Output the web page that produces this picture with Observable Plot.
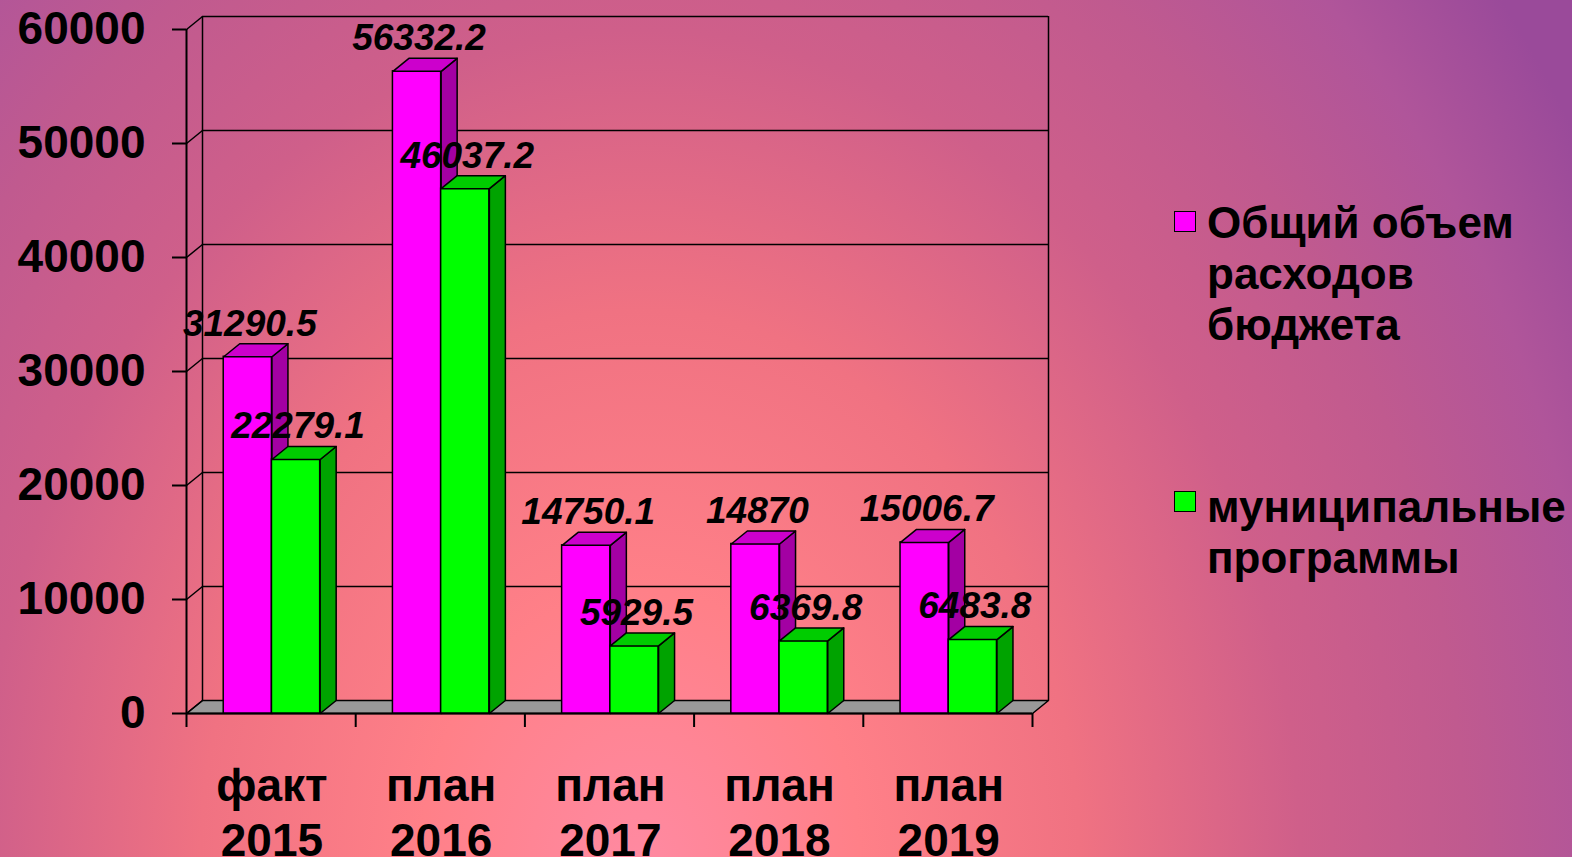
<!DOCTYPE html>
<html>
<head>
<meta charset="utf-8">
<script src="https://cdn.jsdelivr.net/npm/d3@7"></script>
<script src="https://cdn.jsdelivr.net/npm/@observablehq/plot@0.6"></script>
<style>
  html, body { margin: 0; padding: 0; }
  body {
    width: 1572px; height: 857px; overflow: hidden; position: relative;
    font-family: "Liberation Sans", Arial, sans-serif;
    background: radial-gradient(ellipse 1100px 1400px at 640px 870px,
      #ff8aa2 0%, #ff8088 20%, #f07282 40%, #cf5f8a 60%, #c05a8f 75%, #b0559a 88%, #9a4a9a 100%);
    background-color: #8f4698;
  }
  #chart { position: absolute; left: 0; top: 0; }
  .legend { position: absolute; left: 1174px; font-weight: bold; font-size: 44px; line-height: 51px; color: #000; }
  .legend .sw { position: absolute; left: 0; width: 20px; height: 19px; border: 1.5px solid #000; }
  .legend .tx { position: absolute; left: 33px; white-space: nowrap; }
</style>
</head>
<body>
<div id="chart"></div>
<div id="legend"></div>
<script>
// ---- data ----
const categories = ["факт\n2015", "план\n2016", "план\n2017", "план\n2018", "план\n2019"];
const totalSpending = [31290.5, 56332.2, 14750.1, 14870, 15006.7];
const municipalPrograms = [22279.1, 46037.2, 5929.5, 6369.8, 6483.8];
const valueLabelsTotal = ["31290.5", "56332.2", "14750.1", "14870", "15006.7"];
const valueLabelsMunicipal = ["22279.1", "46037.2", "5929.5", "6369.8", "6483.8"];
const yTicks = [0, 10000, 20000, 30000, 40000, 50000, 60000];
const seriesNames = ["Общий объем\nрасходов\nбюджета", "муниципальные\nпрограммы"];
const seriesColors = ["#ff00ff", "#00ff00"];

// ---- layout ----
const W = 1572, H = 857;
const mL = 186, mR = 540, mT = 29, mB = 144;
const N = categories.length;
const YMAX = 60000;
const pxX = (W - mL - mR) / N;       // pixels per category unit
const pxY = (H - mT - mB) / YMAX;    // pixels per value unit
const DX = 16 / pxX;                 // 3D depth in x units
const DY = 13 / pxY;                 // 3D depth in y units
const TICK = 14 / pxY;               // x tick length in y units
const BAR_START = 0.22, BAR_W = 0.285;

const shades = {
  "#ff00ff": {top: "#cc00cc", side: "#a300a3"},
  "#00ff00": {top: "#00cc00", side: "#00a300"}
};

function barRects(values, s) {
  return values.map((v, i) => ({x1: i + BAR_START + s * BAR_W, x2: i + BAR_START + (s + 1) * BAR_W, v}));
}
function sideFaces(values, s) {
  const pts = [];
  barRects(values, s).forEach((b, i) => {
    pts.push({f: i, x: b.x2, y: 0}, {f: i, x: b.x2 + DX, y: DY}, {f: i, x: b.x2 + DX, y: b.v + DY}, {f: i, x: b.x2, y: b.v});
  });
  return pts;
}
function topFaces(values, s) {
  const pts = [];
  barRects(values, s).forEach((b, i) => {
    pts.push({f: i, x: b.x1, y: b.v}, {f: i, x: b.x2, y: b.v}, {f: i, x: b.x2 + DX, y: b.v + DY}, {f: i, x: b.x1 + DX, y: b.v + DY});
  });
  return pts;
}
function barMarks(values, s) {
  const c = seriesColors[s];
  return [
    Plot.rect(barRects(values, s), {x1: "x1", x2: "x2", y1: 0, y2: "v", fill: c, stroke: "black", strokeWidth: 1.5, inset: 0}),
    Plot.line(sideFaces(values, s), {x: "x", y: "y", z: "f", curve: "linear-closed", fill: shades[c].side, stroke: "black", strokeWidth: 1.5}),
    Plot.line(topFaces(values, s), {x: "x", y: "y", z: "f", curve: "linear-closed", fill: shades[c].top, stroke: "black", strokeWidth: 1.5})
  ];
}

const floor = [{x: 0, y: 0}, {x: N, y: 0}, {x: N + DX, y: DY}, {x: DX, y: DY}];
const catIdx = d3.range(N);
const bounds = d3.range(N + 1);

const labelFont = {fontSize: 37, fontWeight: "bold", fontStyle: "italic", fill: "black", textAnchor: "middle"};

const chart = Plot.plot({
  width: W, height: H,
  marginLeft: mL, marginRight: mR, marginTop: mT, marginBottom: mB,
  style: {background: "transparent", fontFamily: "'Liberation Sans', Arial, sans-serif", overflow: "visible", color: "black"},
  x: {type: "linear", domain: [0, N], axis: null},
  y: {type: "linear", domain: [0, YMAX], axis: null},
  marks: [
    // floor
    Plot.line(floor, {x: "x", y: "y", curve: "linear-closed", fill: "#999999", stroke: "black", strokeWidth: 1.5}),
    // back wall grid
    Plot.ruleY(yTicks.filter(t => t > 0), {y: t => t + DY, x1: DX, x2: N + DX, stroke: "black", strokeWidth: 1.5, strokeOpacity: 1}),
    Plot.ruleX([DX, N + DX], {x: d => d, y1: DY, y2: YMAX + DY, stroke: "black", strokeWidth: 1.5, strokeOpacity: 1}),
    // left wall diagonals
    Plot.link(yTicks, {x1: 0, y1: t => t, x2: DX, y2: t => t + DY, stroke: "black", strokeWidth: 1.5, strokeOpacity: 1}),
    // front axis lines
    Plot.ruleX([0], {y1: 0, y2: YMAX, stroke: "black", strokeWidth: 2, strokeOpacity: 1}),
    Plot.ruleY([0], {x1: 0, x2: N, stroke: "black", strokeWidth: 2, strokeOpacity: 1}),
    // bars
    ...barMarks(totalSpending, 0),
    ...barMarks(municipalPrograms, 1),
    // axes
    Plot.axisY({ticks: yTicks, tickSize: 14, tickPadding: 27, fontSize: 46, fontWeight: "bold", strokeWidth: 2, tickFormat: d => String(d), fill: "black", stroke: "black"}),
    Plot.ruleX(bounds, {x: d => d, y1: 0, y2: -TICK, stroke: "black", strokeWidth: 2, strokeOpacity: 1}),
    Plot.text(catIdx, {x: i => i + 0.505, y: 0, text: i => categories[i], lineAnchor: "top", dy: 48, lineHeight: 1.2,
      fontSize: 46, fontWeight: "bold", fill: "black", textAnchor: "middle"}),
    // value labels
    Plot.text(catIdx, {x: i => i + BAR_START + 0.5 * BAR_W, y: i => totalSpending[i], text: i => valueLabelsTotal[i], dx: 2, dy: -33, ...labelFont}),
    Plot.text(catIdx, {x: i => i + BAR_START + 1.5 * BAR_W, y: i => municipalPrograms[i], text: i => valueLabelsMunicipal[i], dx: 2, dy: -33, ...labelFont})
  ]
});
document.getElementById("chart").appendChild(chart);

// legend
const legendTops = [197, 481];
const legend = document.getElementById("legend");
seriesNames.forEach((name, s) => {
  const block = document.createElement("div");
  block.className = "legend";
  block.style.top = legendTops[s] + "px";
  const sw = document.createElement("div");
  sw.className = "sw";
  sw.style.background = seriesColors[s];
  sw.style.top = s === 0 ? "14px" : "10px";
  const tx = document.createElement("div");
  tx.className = "tx";
  tx.style.top = "0px";
  tx.innerHTML = name.split("\n").join("<br>");
  block.appendChild(sw);
  block.appendChild(tx);
  legend.appendChild(block);
});
</script>
</body>
</html>
